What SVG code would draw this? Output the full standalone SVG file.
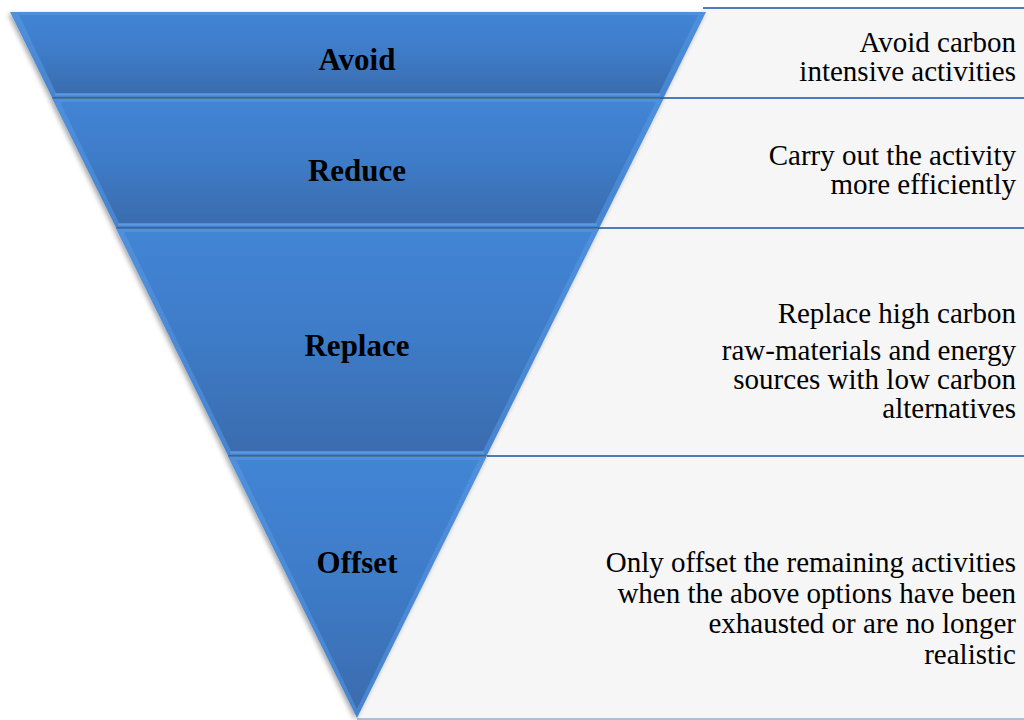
<svg xmlns="http://www.w3.org/2000/svg" width="1024" height="720" viewBox="0 0 1024 720">
  <defs>
    <linearGradient id="body" x1="0" y1="0" x2="0" y2="1">
      <stop offset="0" stop-color="#4285d5"/>
      <stop offset="0.5" stop-color="#3e7bc7"/>
      <stop offset="1" stop-color="#3a6cae"/>
    </linearGradient>
    <linearGradient id="bevel" x1="0" y1="0" x2="0" y2="1">
      <stop offset="0" stop-color="#4f90dc"/>
      <stop offset="1" stop-color="#4784cf"/>
    </linearGradient>
    <filter id="shadow" x="-10%" y="-10%" width="120%" height="120%">
      <feGaussianBlur in="SourceAlpha" stdDeviation="2.5"/>
      <feOffset dx="-2" dy="2" result="b"/>
      <feComponentTransfer><feFuncA type="linear" slope="0.35"/></feComponentTransfer>
      <feMerge><feMergeNode/><feMergeNode in="SourceGraphic"/></feMerge>
    </filter>
    <filter id="pshadow" x="-5%" y="-5%" width="110%" height="110%">
      <feGaussianBlur in="SourceAlpha" stdDeviation="2"/>
      <feOffset dx="0" dy="1"/>
      <feComponentTransfer><feFuncA type="linear" slope="0.15"/></feComponentTransfer>
      <feMerge><feMergeNode/><feMergeNode in="SourceGraphic"/></feMerge>
    </filter>
  </defs>
  <style>
    .panel { fill: #f6f6f6; }
    .pline { stroke: #4a7ebb; stroke-width: 2; fill: none; }
    .outer { fill: url(#bevel); }
    .inner { fill: url(#body); }
    .sep { stroke: #2f5b92; stroke-width: 1.5; }
    .hl { stroke: #5c9ae0; stroke-width: 2; }
    .lbl { font-family: "Liberation Serif", "Times New Roman", serif; font-weight: bold; font-size: 31px; fill: #000; text-anchor: middle; }
    .desc { font-family: "Liberation Serif", "Times New Roman", serif; font-size: 29px; fill: #000; text-anchor: end; }
  </style>
  <rect width="1024" height="720" fill="#ffffff"/>

  <g id="panels" filter="url(#pshadow)">
    <polygon class="panel" points="704,8 1024,8 1024,98 662,98"/>
    <polygon class="panel" points="662,98 1024,98 1024,228 598,228"/>
    <polygon class="panel" points="598,228 1024,228 1024,456 487,456"/>
    <polygon class="panel" points="487,456 1024,456 1024,718 357,718"/>
  </g>
  <g id="panel-lines">
    <line class="pline" x1="703" y1="8" x2="1024" y2="8"/>
    <line class="pline" x1="660" y1="98" x2="1024" y2="98"/>
    <line class="pline" x1="598" y1="228" x2="1024" y2="228"/>
    <line class="pline" x1="487" y1="456" x2="1024" y2="456"/>
    <line x1="357" y1="719" x2="1024" y2="719" stroke="#a9bfdc" stroke-width="2"/>
  </g>

  <g id="pyramid" filter="url(#shadow)">
    <g id="avoid">
      <polygon class="outer" points="10,12 706,12 663.5,98 52.3,98"/>
      <polygon class="inner" points="19,15 698,15 659,93 56,93"/>
      <line class="hl" x1="55" y1="94.5" x2="660" y2="94.5"/>
      <line class="sep" x1="52.3" y1="98" x2="663.5" y2="98"/>
    </g>
    <g id="reduce">
      <polygon class="outer" points="52.3,99 663.5,99 599.2,228 116.2,228"/>
      <polygon class="inner" points="60,102 656,102 595,223 119,223"/>
      <line class="hl" x1="118" y1="224.5" x2="597" y2="224.5"/>
      <line class="sep" x1="116.2" y1="228" x2="599.2" y2="228"/>
    </g>
    <g id="replace">
      <polygon class="outer" points="116.2,229 599.2,229 486.5,456 228.2,456"/>
      <polygon class="inner" points="124,232 592,232 483,451 231,451"/>
      <line class="hl" x1="230" y1="452.5" x2="484" y2="452.5"/>
      <line class="sep" x1="228.2" y1="456" x2="486.5" y2="456"/>
    </g>
    <g id="offset">
      <polygon class="outer" points="228.2,457 486.5,457 357,718"/>
      <polygon class="inner" points="236,460 479,460 357,709"/>
    </g>
  </g>

  <g id="labels">
    <text class="lbl" x="357" y="70">Avoid</text>
    <text class="lbl" x="357" y="181">Reduce</text>
    <text class="lbl" x="357" y="356">Replace</text>
    <text class="lbl" x="357" y="573">Offset</text>
  </g>

  <g id="descriptions">
    <text class="desc" x="1016" y="52">Avoid carbon</text>
    <text class="desc" x="1016" y="81">intensive activities</text>
    <text class="desc" x="1016" y="165">Carry out the activity</text>
    <text class="desc" x="1016" y="194">more efficiently</text>
    <text class="desc" x="1016" y="323">Replace high carbon</text>
    <text class="desc" x="1016" y="360">raw-materials and energy</text>
    <text class="desc" x="1016" y="389">sources with low carbon</text>
    <text class="desc" x="1016" y="418">alternatives</text>
    <text class="desc" x="1016" y="572">Only offset the remaining activities</text>
    <text class="desc" x="1016" y="603">when the above options have been</text>
    <text class="desc" x="1016" y="633">exhausted or are no longer</text>
    <text class="desc" x="1016" y="664">realistic</text>
  </g>
</svg>
